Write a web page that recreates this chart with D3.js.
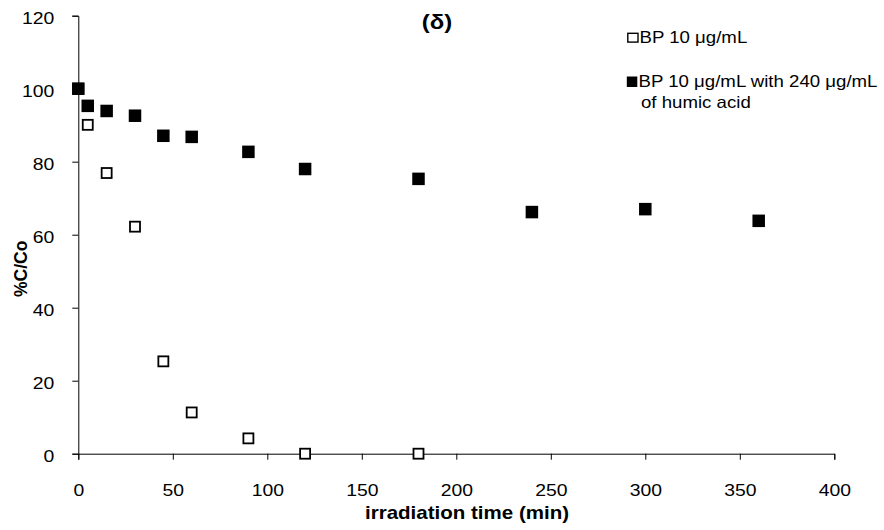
<!DOCTYPE html>
<html><head><meta charset="utf-8">
<script src="https://cdn.jsdelivr.net/npm/d3@7/dist/d3.min.js"></script>
<style>body{margin:0;background:#fff}svg{display:block}text{font-family:"Liberation Sans",Arial,sans-serif;fill:#000}</style>
</head><body><svg id="c" width="884" height="530"></svg>
<script>
const timesOpen = [0, 5, 15, 30, 45, 60, 90, 120, 180];
const valuesOpen = [100, 90.1, 76.9, 62.2, 25.3, 11.3, 4.2, 0, 0];
const timesFilled = [0, 5, 15, 30, 45, 60, 90, 120, 180, 240, 300, 360];
const valuesFilled = [100, 95.3, 93.9, 92.6, 87.1, 86.8, 82.7, 78.0, 75.3, 66.2, 67.0, 63.8];
const xTicks = [0, 50, 100, 150, 200, 250, 300, 350, 400];
const yTicks = [0, 20, 40, 60, 80, 100, 120];
const seriesNames = ["BP 10 μg/mL", "BP 10 μg/mL with 240 μg/mL", "of humic acid"];

const K = 1.14; // horizontal stretch of the source picture
const FONT = '"Liberation Sans",Arial,sans-serif';
const svg = d3.select("#c");
const x = d3.scaleLinear().domain([0, 400]).range([78.3, 834.3]);
const y = d3.scaleLinear().domain([0, 120]).range([453.7, 15.7]);

function label(px, py, str, size, bold, anchor, k) {
  return svg.append("text")
    .attr("transform", `translate(${px},${py}) scale(${k || K},1)`)
    .attr("text-anchor", anchor || "start")
    .style("font-size", size + "px").style("font-weight", bold ? "bold" : "normal")
    .style("font-family", FONT).text(str);
}

const xAxis = svg.append("g").attr("transform", `translate(0,${y(0)})`)
  .call(d3.axisBottom(x).tickValues(xTicks).tickSize(6).tickFormat(d3.format("d")));
const yAxis = svg.append("g").attr("transform", `translate(${x(0)},0)`)
  .call(d3.axisLeft(y).tickValues(yTicks).tickSize(6).tickFormat(d3.format("d")));
[xAxis, yAxis].forEach(g => {
  g.selectAll("path,line").attr("stroke", "#000").attr("stroke-width", 1);
});
xAxis.selectAll(".tick text").attr("y", null).attr("dy", null).attr("x", null)
  .attr("transform", `translate(0,42.3) scale(${K},1)`)
  .style("font-size", "17px").style("font-family", FONT);
yAxis.selectAll(".tick text").attr("x", null).attr("dy", null)
  .attr("transform", `translate(-24,7.5) scale(${K},1)`)
  .style("font-size", "17px").style("font-family", FONT);

// open markers (drawn first; filled series sits on top)
const so = 10;
svg.append("g").selectAll("rect").data(timesOpen.map((t, i) => [t, valuesOpen[i]])).join("rect")
  .attr("x", d => x(d[0]) - so / 2).attr("y", d => y(d[1]) - so / 2)
  .attr("width", so).attr("height", so).attr("fill", "#fff").attr("stroke", "#000").attr("stroke-width", 1.8);

// filled markers
const sf = 12.5;
svg.append("g").selectAll("rect").data(timesFilled.map((t, i) => [t, valuesFilled[i]])).join("rect")
  .attr("x", d => x(d[0]) - sf / 2).attr("y", d => y(d[1]) - sf / 2)
  .attr("width", sf).attr("height", sf).attr("fill", "#000");

// titles
label(437, 28.5, "(δ)", 21, true, "middle");
label(467, 519, "irradiation time (min)", 18, true, "middle");
svg.append("text").attr("transform", "translate(27,297) scale(1,1) rotate(-90)")
  .attr("text-anchor", "start").style("font-size", "17.5px").style("font-weight", "bold")
  .style("font-family", FONT).text("%C/Co");

// legend
svg.append("rect").attr("x", 627.8).attr("y", 33.3).attr("width", 10.2).attr("height", 8.8)
  .attr("fill", "#fff").attr("stroke", "#000").attr("stroke-width", 1.4);
label(639.5, 43, seriesNames[0], 16.5, false, "start", 1.13);
svg.append("rect").attr("x", 626.8).attr("y", 76.5).attr("width", 10.5).attr("height", 10.5).attr("fill", "#000");
label(638.5, 87.3, seriesNames[1], 16.5, false, "start", 1.13);
label(641, 107.5, seriesNames[2], 16.5, false, "start", 1.13);
</script></body></html>
